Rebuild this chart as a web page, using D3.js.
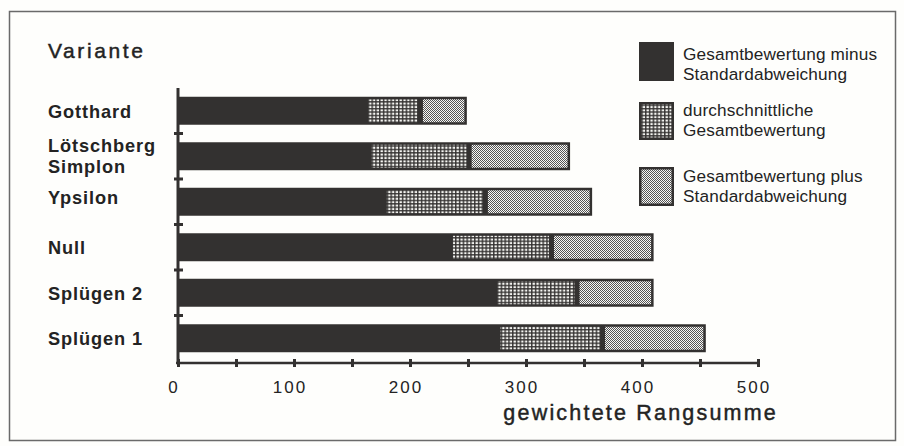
<!DOCTYPE html>
<html><head><meta charset="utf-8">
<script src="https://cdn.jsdelivr.net/npm/d3@7"></script>
<style>
body{margin:0;background:#fff}
svg{display:block}
text{font-family:"Liberation Sans",Arial,Helvetica,sans-serif;fill:#232323}
</style>
</head><body>
<svg id="c" width="904" height="446"></svg>
<script>
// ---- data ----
const categories = ["Gotthard", "Lötschberg\nSimplon", "Ypsilon", "Null", "Splügen 2", "Splügen 1"];
const minusSD = [164, 167, 180, 237, 275, 278];   // Gesamtbewertung minus Standardabweichung
const meanVal = [209, 251, 265, 322, 344, 366];   // durchschnittliche Gesamtbewertung
const plusSD  = [249, 338, 357, 410, 410, 455];   // Gesamtbewertung plus Standardabweichung
const xTicks = [0, 50, 100, 150, 200, 250, 300, 350, 400, 450, 500];
const xTickLabels = [0, 100, 200, 300, 400, 500];
const legendLabels = [
  ["Gesamtbewertung minus", "Standardabweichung"],
  ["durchschnittliche", "Gesamtbewertung"],
  ["Gesamtbewertung plus", "Standardabweichung"]
];
const yTitle = "Variante";
const xTitle = "gewichtete Rangsumme";

// ---- drawing ----
const DARK = "#333130";
const svg = d3.select("#c");
svg.append("rect").attr("width", 904).attr("height", 446).attr("fill", "#fefefc");
svg.append("rect").attr("x", 9.5).attr("y", 11.5).attr("width", 886).attr("height", 429)
  .attr("fill", "none").attr("stroke", "#6a6a6a").attr("stroke-width", 1.5);

const defs = svg.append("defs");
const pDots = defs.append("pattern").attr("id", "dots").attr("patternUnits", "userSpaceOnUse")
  .attr("width", 3.8).attr("height", 3.4);
pDots.append("rect").attr("width", 3.8).attr("height", 3.4).attr("fill", DARK);
pDots.append("rect").attr("x", 0.5).attr("y", 0.5).attr("width", 2.4).attr("height", 2.1).attr("fill", "#f6f6f2");
const pFine = defs.append("pattern").attr("id", "fine").attr("patternUnits", "userSpaceOnUse")
  .attr("width", 2).attr("height", 2);
pFine.append("rect").attr("width", 2).attr("height", 2).attr("fill", "#f8f8f6");
pFine.append("rect").attr("width", 1).attr("height", 1).attr("fill", "#555");
pFine.append("rect").attr("x", 1).attr("y", 1).attr("width", 1).attr("height", 1).attr("fill", "#555");

const x = d3.scaleLinear().domain([0, 500]).range([178, 758]);
const y = d3.scaleBand().domain(categories).range([88, 361])
  .paddingInner(0.385).paddingOuter(0.1925);
const bw = y.bandwidth();

const rows = categories.map((c, i) => ({c, lo: minusSD[i], mid: meanVal[i], hi: plusSD[i]}));

const g = svg.append("g");
g.selectAll("rect.base").data(rows).join("rect").attr("class", "base")
  .attr("x", x(0)).attr("y", d => y(d.c)).attr("width", d => x(d.hi) - x(0)).attr("height", bw)
  .attr("fill", DARK);
g.selectAll("rect.mid").data(rows).join("rect").attr("class", "mid")
  .attr("x", d => x(d.lo)).attr("y", d => y(d.c) + 2.5)
  .attr("width", d => x(d.mid) - x(d.lo) - 2.5).attr("height", bw - 5)
  .attr("fill", "url(#dots)");
g.selectAll("rect.hi").data(rows).join("rect").attr("class", "hi")
  .attr("x", d => x(d.mid) + 2.5).attr("y", d => y(d.c) + 2.5)
  .attr("width", d => x(d.hi) - x(d.mid) - 5).attr("height", bw - 5)
  .attr("fill", "url(#fine)");

// y axis
const step = y.step();
svg.append("line").attr("x1", x(0)).attr("x2", x(0)).attr("y1", 88).attr("y2", 364)
  .attr("stroke", DARK).attr("stroke-width", 3);
const boundaries = categories.slice(1).map(c => y(c) - y.paddingInner() * step / 2);
svg.selectAll("line.ytick").data(boundaries).join("line").attr("class", "ytick")
  .attr("x1", x(0) - 4).attr("x2", x(0) + 5).attr("y1", d => d).attr("y2", d => d)
  .attr("stroke", DARK).attr("stroke-width", 3);

// category labels
const labelDy = {"Ypsilon": 2};
categories.forEach(c => {
  const lines = c.split("\n");
  const cy = y(c) + bw / 2;
  const t = svg.append("text").attr("x", 48).attr("font-size", 18.2).attr("font-weight", "bold")
    .attr("letter-spacing", 0.9);
  if (lines.length === 1) {
    t.attr("y", cy + (labelDy[c] !== undefined ? labelDy[c] : 7)).text(lines[0]);
  } else {
    lines.forEach((l, k) => t.append("tspan").attr("x", 48).attr("y", cy - 4.5 + k * 21).text(l));
  }
});

// x axis
const axisY = 363;
const xa = svg.append("g").attr("transform", `translate(0,${axisY})`)
  .call(d3.axisBottom(x).tickValues(xTicks).tickSize(0).tickFormat(""));
xa.select(".domain").attr("stroke", DARK).attr("stroke-width", 2.5)
  .attr("d", `M${x(0) - 2},0H${x(500) + 1}`);
xa.selectAll(".tick line").attr("stroke", DARK).attr("stroke-width", 3)
  .attr("y1", -4).attr("y2", 4);
svg.selectAll("text.xl").data(xTickLabels).join("text").attr("class", "xl")
  .attr("x", d => x(d) - 4).attr("y", axisY + 30).attr("text-anchor", "middle")
  .attr("font-size", 17).attr("letter-spacing", 2).text(d => d);

// titles
svg.append("text").attr("x", 48).attr("y", 58).attr("font-size", 21).attr("letter-spacing", 2.6)
  .attr("stroke", "#232323").attr("stroke-width", 0.45).text(yTitle);
svg.append("text").attr("x", 778).attr("y", 420).attr("text-anchor", "end")
  .attr("font-size", 21.5).attr("letter-spacing", 2.2)
  .attr("stroke", "#232323").attr("stroke-width", 0.45).text(xTitle);

// legend
const legY = [42, 102, 167];
const legH = [39, 38, 39];
const legFill = [null, "url(#dots)", "url(#fine)"];
const legBase = [[60, 80], [116, 136], [182, 202]];
legendLabels.forEach((lab, i) => {
  svg.append("rect").attr("x", 639).attr("y", legY[i]).attr("width", 35).attr("height", legH[i])
    .attr("fill", DARK);
  if (legFill[i]) svg.append("rect").attr("x", 641.5).attr("y", legY[i] + 2.5)
    .attr("width", 30).attr("height", legH[i] - 5).attr("fill", legFill[i]);
  lab.forEach((l, k) => svg.append("text").attr("x", 683).attr("y", legBase[i][k])
    .attr("font-size", 17.2).attr("letter-spacing", 0.15).text(l));
});
</script>
</body></html>
